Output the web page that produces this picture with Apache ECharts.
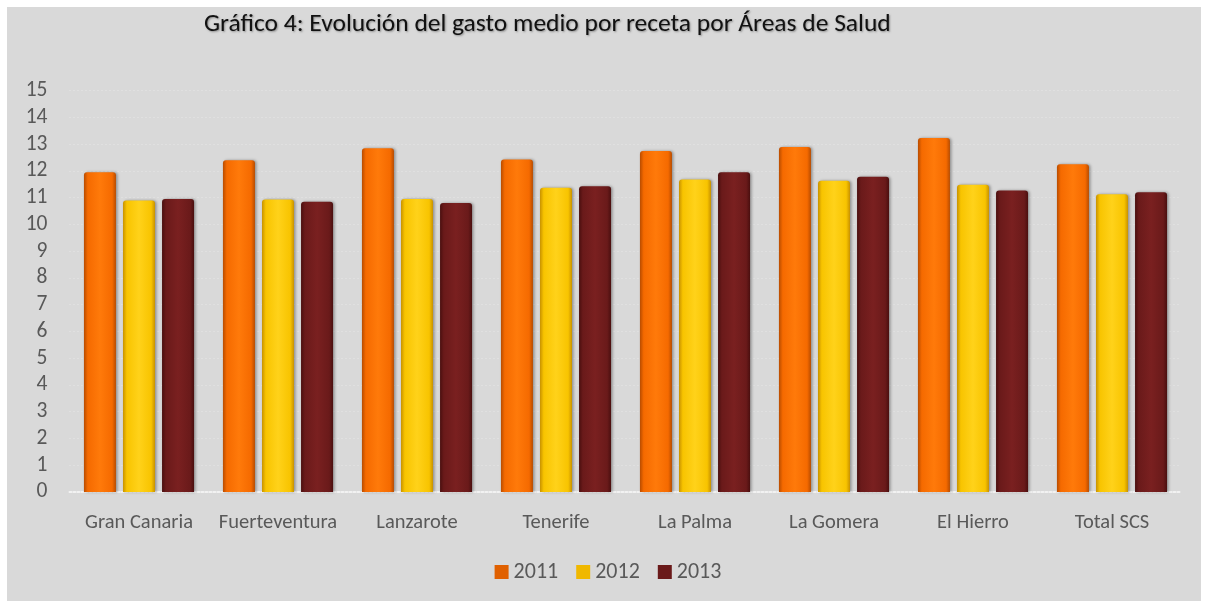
<!DOCTYPE html>
<html>
<head>
<meta charset="utf-8">
<script src="https://cdn.jsdelivr.net/npm/echarts@6/dist/echarts.min.js"></script>
<style>
html,body{margin:0;padding:0;background:#ffffff;}
#c{width:1216px;height:608px;}
</style>
</head>
<body>
<div id="c"></div>
<script>
const categories = ["Gran Canaria","Fuerteventura","Lanzarote","Tenerife","La Palma","La Gomera","El Hierro","Total SCS"];
const years = ["2011","2012","2013"];
const v2011 = [11.95, 12.40, 12.85, 12.43, 12.75, 12.90, 13.23, 12.25];
const v2012 = [10.90, 10.93, 10.95, 11.37, 11.68, 11.63, 11.48, 11.13];
const v2013 = [10.95, 10.85, 10.80, 11.43, 11.95, 11.78, 11.27, 11.20];
const yTicks = [0,1,2,3,4,5,6,7,8,9,10,11,12,13,14,15];

const FONT = 'Carlito, "Open Sans", "Liberation Sans", sans-serif';

function grad(edge, mid, light){
  return new echarts.graphic.LinearGradient(0,0,1,0,[
    {offset:0,color:edge},{offset:0.12,color:mid},{offset:0.5,color:light},{offset:0.88,color:mid},{offset:1,color:edge}
  ]);
}
const styles = [
  {color: grad('#b84c00','#f56a00','#ff7a0a'), legend:'#e06000'},
  {color: grad('#c89200','#f8c400','#ffd21a'), legend:'#f0b800'},
  {color: grad('#4a0f0f','#6a1a1a','#7a2020'), legend:'#6a1a1a'}
];
const seriesData = [v2011, v2012, v2013];

const chart = echarts.init(document.getElementById('c'), null, {renderer:'canvas'});
chart.setOption({
  backgroundColor: 'transparent',
  animation: false,
  graphic: [{
    type:'rect', z:-10, silent:true,
    shape:{x:7,y:7,width:1194,height:594},
    style:{fill:'#d9d9d9'}
  }],
  title: {
    text: 'Gráfico 4: Evolución del gasto medio por receta por Áreas de Salud',
    left: 199, top: 7,
    textStyle: {
      fontFamily: FONT, fontSize: 25.5, fontWeight: 'normal', color: '#111',
      textShadowColor: 'rgba(0,0,0,0.35)', textShadowBlur: 2, textShadowOffsetX: 1, textShadowOffsetY: 1
    }
  },
  legend: {
    data: years.map((y,i)=>({name:y, itemStyle:{color:styles[i].legend}})),
    bottom: 20, left: 'center',
    icon: 'rect', itemWidth: 14, itemHeight: 14, itemGap: 18,
    textStyle: {fontFamily: FONT, fontSize: 22, color: '#595959'}
  },
  grid: {left: 69.5, right: 34.5, top: 90.7, bottom: 116, containLabel: false},
  xAxis: {
    type: 'category', data: categories,
    axisLine: {show:true, lineStyle:{color:'#f2f2f2', width:2, type:'dotted'}},
    axisTick: {show:false},
    axisLabel: {fontFamily: FONT, fontSize: 20.5, color: '#595959', margin: 20, interval: 0}
  },
  yAxis: {
    type: 'value', min: yTicks[0], max: yTicks[yTicks.length-1], interval: 1,
    axisLine: {show:false}, axisTick: {show:false},
    axisLabel: {fontFamily: FONT, fontSize: 21.5, color: '#595959', margin: 22},
    splitLine: {show:true, lineStyle:{color:'#e6e6e6', width:1, type:[1,3]}}
  },
  series: years.map((y,i)=>({
    name: y, type: 'bar', data: seriesData[i],
    barWidth: 32, barGap: '22%',
    itemStyle: {
      color: styles[i].color,
      borderRadius: [3,3,0,0],
      shadowColor: 'rgba(0,0,0,0.35)', shadowBlur: 3, shadowOffsetX: 1.5, shadowOffsetY: 0
    }
  }))
});
</script>
</body>
</html>
